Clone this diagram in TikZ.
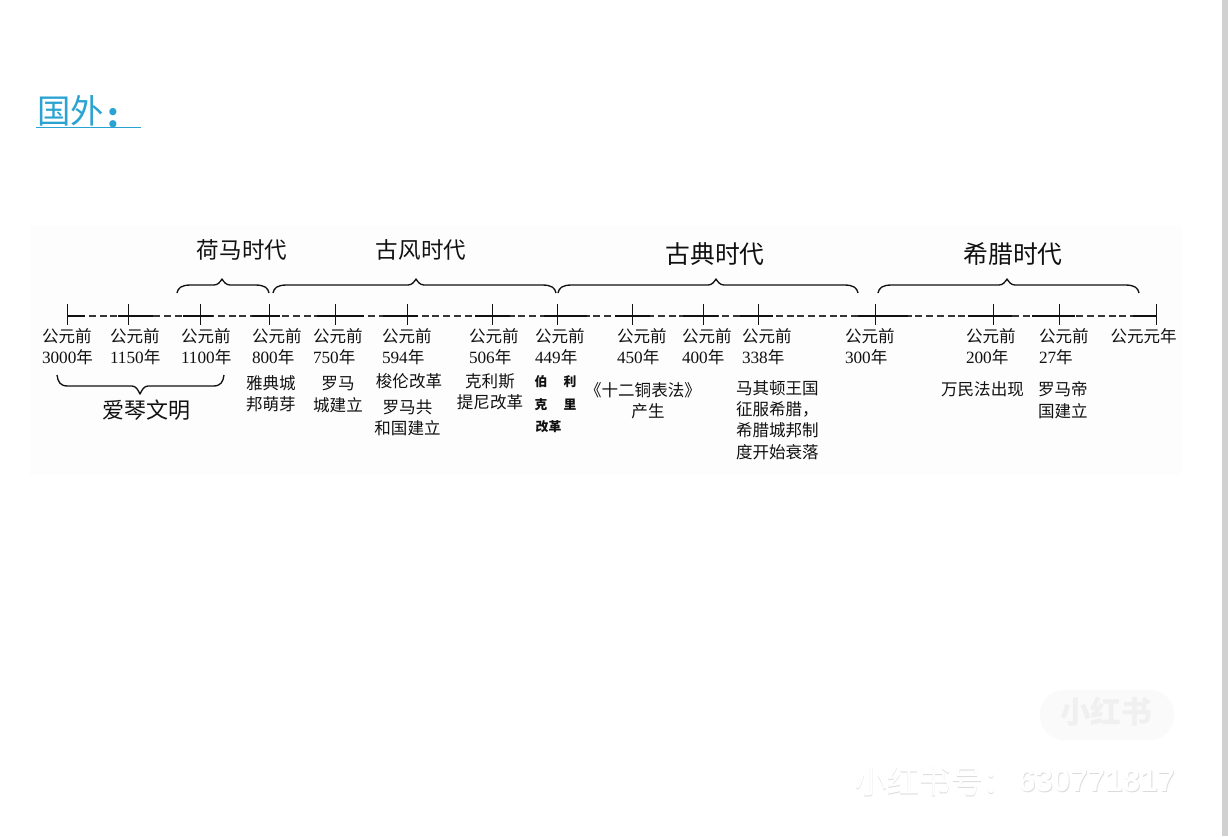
\documentclass[tikz,border=0pt]{standalone}
\usepackage{fontspec}
\setmainfont{Liberation Serif}
\newfontfamily\cjk{Noto Sans CJK SC}
\newfontfamily\latinwm{Liberation Sans}
\definecolor{ink}{HTML}{111111}
\definecolor{titleblue}{HTML}{2BA3D2}
\tikzset{
  every node/.style={inner sep=0pt,outer sep=0pt,text=ink},
  yearlabel/.style={align=left,anchor=west,font=\fontsize{12.4}{15.75}\selectfont\cjk},
  descL/.style={align=left,anchor=west,font=\fontsize{12.4}{16}\selectfont\cjk},
  descC/.style={align=center,anchor=center,font=\fontsize{12.4}{16}\selectfont\cjk},
  erabig/.style={anchor=center,font=\fontsize{16.9}{20}\selectfont\cjk},
  erahuge/.style={anchor=center,font=\fontsize{18.6}{20}\selectfont\cjk},
  aegeanlabel/.style={anchor=center,font=\fontsize{16.5}{20}\selectfont\cjk},
  boldsmall/.style={anchor=center,font=\fontsize{9.6}{12}\selectfont\cjk\bfseries},
  axisline/.style={draw=ink,line width=1.05pt},
  axisdash/.style={draw=ink!85,line width=0.85pt,dash pattern=on 5.25pt off 2.8pt},
  tickline/.style={draw=ink,line width=0.75pt},
  bracepath/.style={draw=ink,line width=1pt,line join=round},
}
\newcommand{\yrtxt}[1]{{\rmfamily\fontsize{12.9}{15.75}\selectfont #1}年}
\newcommand{\uppercurly}[3]{%
  \draw[bracepath] (#1,293) .. controls (#1+1,288) and (#1+4,285) .. (#1+14,285)
    -- (#3-8,285) .. controls (#3-4,285) and (#3-2,282) .. (#3,279)
    .. controls (#3+2,282) and (#3+4,285) .. (#3+8,285)
    -- (#2-14,285) .. controls (#2-4,285) and (#2-1,288) .. (#2,293);}
\begin{document}
\begin{tikzpicture}[x=0.75pt,y=-0.75pt]
\useasboundingbox (0,0) rectangle (1228,836);
\fill[white] (0,0) rectangle (1228,836);
\fill[black!0.6] (30,225) rectangle (1182,475);
\fill[black!18] (1222,0) rectangle (1228,836);

% heading
\node[anchor=west,text=titleblue,font=\fontsize{25}{28}\selectfont\cjk] (heading) at (37,111) {国外};
\node[anchor=center,text=titleblue,font=\fontsize{25}{28}\selectfont\cjk\bfseries] (colon) at (113,118) {:};
\draw[titleblue,line width=1.2pt] (36,127.5) -- (141,127.5);

% axis
\coordinate (t1) at (67.5,316);   \coordinate (t2) at (128,316);
\coordinate (t3) at (200,316);    \coordinate (t4) at (269,316);
\coordinate (t5) at (335,316);    \coordinate (t6) at (407,316);
\coordinate (t7) at (492,316);    \coordinate (t8) at (557,316);
\coordinate (t9) at (632,316);    \coordinate (t10) at (703,316);
\coordinate (t11) at (758,316);   \coordinate (t12) at (875,316);
\coordinate (t13) at (993,316);   \coordinate (t14) at (1059,316);
\coordinate (t15) at (1156.5,316);
\draw[axisdash] (t1) -- (t15);
\foreach \a/\b in {67.5/85,118/153,183/213,252/280,317/364,383/418,475/510,544/587,615/650,683/718,740/773,858/908,968/1012,1032/1075,1133/1156.5}
  \draw[axisline] (\a,316) -- (\b,316);
\draw[tickline] (t1) -- ++(0,-12) (t1) -- ++(0,9);
\foreach \t in {t2,t3,t4,t5,t6,t7,t8,t9,t10,t11,t12,t13,t14}
  \draw[tickline] (\t) ++(0,-12) -- ++(0,21);
\draw[tickline] (t15) ++(0,-12) -- ++(0,21);

% year labels
\foreach \n/\x/\y in {a/42/3000,b/110/1150,c/181/1100,d/252/800,e/313/750,f/382/594,g/469/506,h/535/449,i/617/450,j/682/400,k/742/338,l/845/300,m/966/200,n/1039/27}
  \node[yearlabel] (yr\n) at (\x,346.5) {公元前\\\yrtxt{\y}};
\node[yearlabel] (yro) at (1110.5,336) {公元元年};

% upper braces and eras
\uppercurly{177}{269}{222}
\uppercurly{273}{556}{416}
\uppercurly{558}{858}{716}
\uppercurly{878}{1139}{1007}
\node[erabig] (eraA) at (242,250) {荷马时代};
\node[erabig] (eraB) at (421,250) {古风时代};
\node[erahuge] (eraC) at (715,254) {古典时代};
\node[erahuge] (eraD) at (1013,254) {希腊时代};

% lower brace
\draw[bracepath] (57,375) .. controls (58,382) and (60,386) .. (68,386)
  -- (132,386) .. controls (136,386) and (138,390) .. (140,394)
  .. controls (142,390) and (144,386) .. (148,386)
  -- (213,386) .. controls (221,386) and (223,382) .. (224,375);
\node[aegeanlabel] (aegean) at (146,410) {爱琴文明};

% descriptions
\node[descL] (dA) at (246,394) {雅典城\\邦萌芽};
\node[descC] (dB) at (338,394.5) {罗马\\城建立};
\node[descC] (dC) at (409,381) {梭伦改革};
\node[descC] (dD) at (407.5,418) {罗马共\\和国建立};
\node[descC] (dE) at (490,392) {克利斯\\提尼改革};
\node[boldsmall] (dF1) at (541,382) {伯};
\node[boldsmall] (dF2) at (570,382) {利};
\node[boldsmall] (dF3) at (541,405) {克};
\node[boldsmall] (dF4) at (570,405) {里};
\node[boldsmall,anchor=center] (dF5) at (548.5,427) {改革};
\node[descC] (dG) at (643,390) {《十二铜表法》};
\node[descC] (dH) at (648,411) {产生};
\node[descL,font=\fontsize{12.4}{16.1}\selectfont\cjk] (dI) at (736,420) {马其顿王国\\征服希腊，\\希腊城邦制\\度开始衰落};
\node[descC] (dJ) at (982.5,389) {万民法出现};
\node[descL] (dK) at (1038,400) {罗马帝\\国建立};

% watermark
\fill[black!2,rounded corners=18pt] (1040,690) rectangle (1174,740);
\node[anchor=center,text=black!6,font=\fontsize{23}{24}\selectfont\cjk\bfseries] (logo) at (1106,712) {小红书};
\node[anchor=west,text=black!14,font=\fontsize{24}{26}\selectfont\cjk] (wmS) at (855.8,782) {小红书号：};
\node[anchor=west,text=black!14,font=\fontsize{23.5}{26}\selectfont\latinwm\bfseries] (wmNumS) at (1018.8,782) {630771817};
\node[anchor=west,text=white,font=\fontsize{24}{26}\selectfont\cjk] (wm) at (855,781) {小红书号：};
\node[anchor=west,text=white,font=\fontsize{23.5}{26}\selectfont\latinwm\bfseries] (wmNum) at (1018,781) {630771817};
\end{tikzpicture}
\end{document}
